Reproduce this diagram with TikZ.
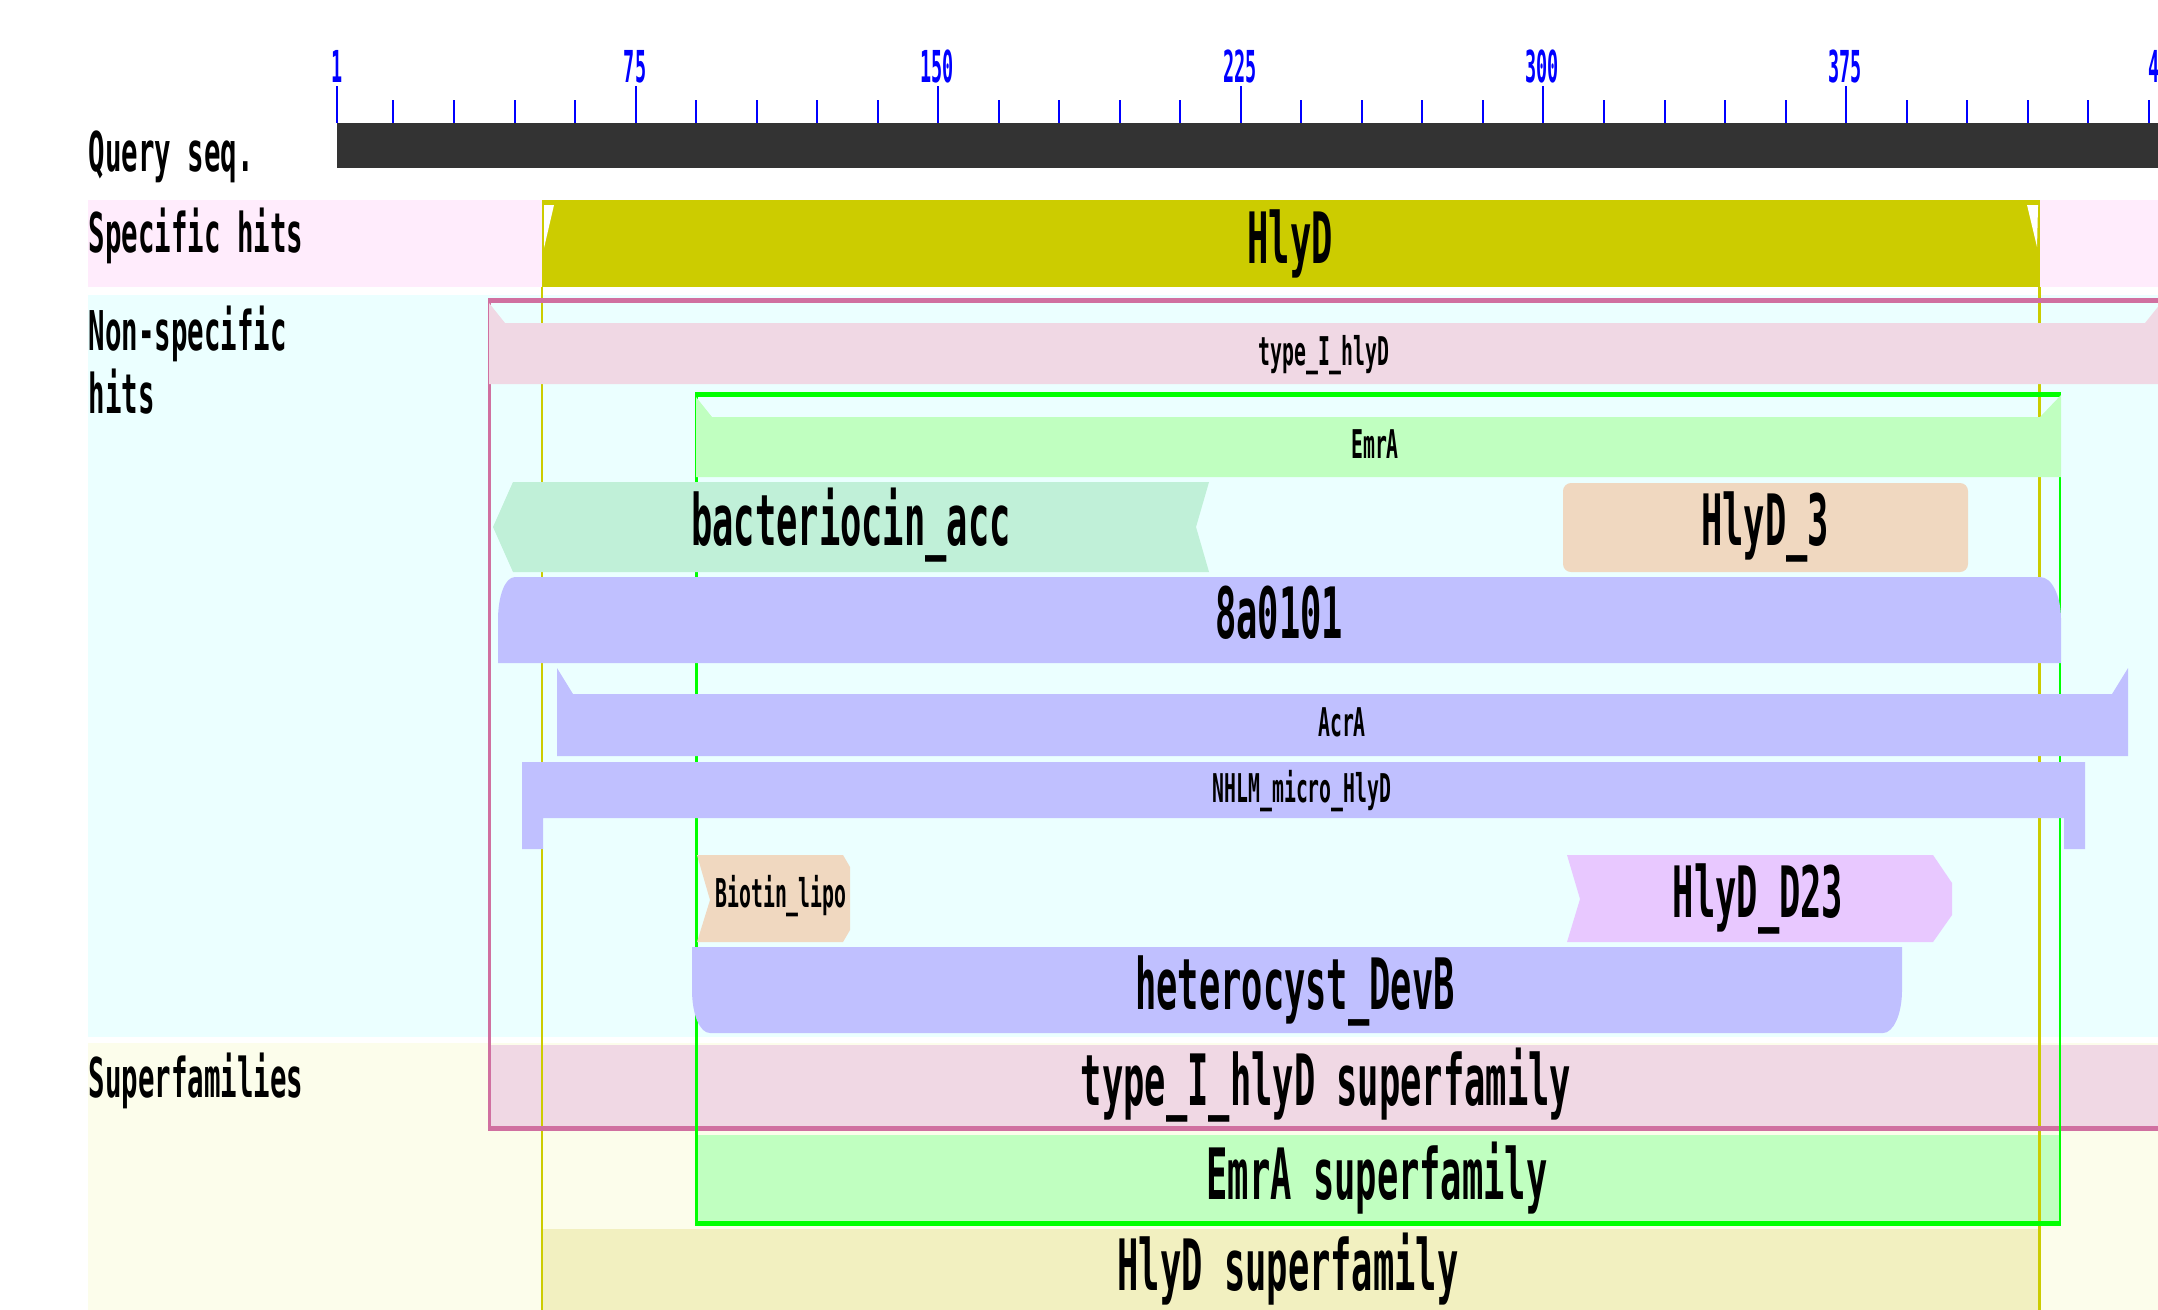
\documentclass[tikz,border=0pt]{standalone}
\usepackage{fontspec}
\newfontfamily\cdmono[FakeStretch=0.5]{DejaVu Sans Mono}
\newfontfamily\cdruler[FakeStretch=0.42]{DejaVu Sans Mono}
\newcommand\fbig{\cdmono\bfseries\fontsize{17.7pt}{20pt}\selectfont}
\newcommand\fmed{\cdmono\bfseries\fontsize{13.7pt}{16pt}\selectfont}
\newcommand\fsml{\cdmono\bfseries\fontsize{9.9pt}{12pt}\selectfont}
\newcommand\frul{\cdruler\bfseries\fontsize{11pt}{13pt}\selectfont}
\definecolor{bgSpec}{RGB}{255,236,252}
\definecolor{bgNon}{RGB}{235,255,255}
\definecolor{bgSup}{RGB}{252,253,235}
\definecolor{cdHlyD}{RGB}{204,204,0}
\definecolor{cdTypeI}{RGB}{240,216,228}
\definecolor{cdPinkLine}{RGB}{208,112,160}
\definecolor{cdEmrA}{RGB}{192,255,192}
\definecolor{cdGreenLine}{RGB}{0,255,0}
\definecolor{cdBact}{RGB}{192,240,216}
\definecolor{cdPeach}{RGB}{240,216,192}
\definecolor{cdLav}{RGB}{192,192,255}
\definecolor{cdViol}{RGB}{232,200,255}
\definecolor{cdHlyDsf}{RGB}{242,240,192}
\definecolor{cdYLine}{RGB}{204,204,0}
\definecolor{cdQuery}{RGB}{51,51,51}
\definecolor{cdBlue}{RGB}{0,0,255}
\begin{document}
\begin{tikzpicture}[x=0.25pt,y=-0.25pt,
  biglbl/.style={anchor=base, inner sep=0pt, font=\fbig},
  rowlbl/.style={anchor=base west, inner sep=0pt, font=\fmed},
  smllbl/.style={anchor=base, inner sep=0pt, font=\fsml},
  rullbl/.style={anchor=base, inner sep=0pt, font=\frul, text=cdBlue},
  tickline/.style={draw=cdBlue, line width=0.5pt}]
\useasboundingbox (0,0) rectangle (2158,1309);
\clip (0,0) rectangle (2158,1309);
\fill[white] (0,0) rectangle (2158,1309);
% background bands
\fill[bgSpec] (88,200) rectangle (2160,287);
\fill[bgNon] (88,295) rectangle (2160,1037);
\fill[bgSup] (88,1043) rectangle (2160,1320);
% ruler
\foreach \r in {1,75,150,225,300,375}
  \draw[tickline] ({337+(\r-1)*4.035},86) -- ({337+(\r-1)*4.035},123);
\foreach \r in {15,30,45,60,90,105,120,135,165,180,195,210,240,255,270,285,315,330,345,360,390,405,420,435,450}
  \draw[tickline] ({337+(\r-1)*4.035},100) -- ({337+(\r-1)*4.035},123);
\node[rullbl] (r1) at (337,82) {1};
\node[rullbl] (r75) at (635,82) {75};
\node[rullbl] (r150) at (937,82) {150};
\node[rullbl] (r225) at (1240,82) {225};
\node[rullbl] (r300) at (1542,82) {300};
\node[rullbl] (r375) at (1845,82) {375};
\node[rullbl, anchor=base west] (r450) at (2148,82) {4};
% query bar
\fill[cdQuery] (337,123) rectangle (2160,168);
% specific hit
\fill[cdHlyD] (542,200) rectangle (2040,287);
\fill[white] (544,205) -- (554,205) -- (544,248) -- cycle;
\fill[white] (2027,205) -- (2038,205) -- (2037,247) -- cycle;
% superfamily bars
\fill[cdTypeI] (489,1045) rectangle (2162,1126);
\fill[cdEmrA] (696,1135) rectangle (2061,1222);
\fill[cdHlyDsf] (542,1229) rectangle (2040,1320);
% cluster outlines
\fill[cdYLine] (540.5,287) rectangle (543,1320);
\fill[cdYLine] (2038,287) rectangle (2040.5,1320);
\fill[cdPinkLine] (488,298) rectangle (2162,303);
\fill[cdPinkLine] (488,298) rectangle (490.5,1131);
\fill[cdPinkLine] (488,1126) rectangle (2162,1131);
\fill[cdGreenLine] (695,392) rectangle (2061,397);
\fill[cdGreenLine] (695,392) rectangle (697.5,1226);
\fill[cdGreenLine] (2058.5,392) rectangle (2061,1226);
\fill[cdGreenLine] (695,1221) rectangle (2061,1226);
% non-specific hits
\fill[cdTypeI] (489,303) -- (505,323) -- (2145,323) -- (2161,303) -- (2162,384) -- (489,384) -- cycle;
\fill[cdEmrA] (696,397) -- (712,417) -- (2040,417) -- (2061,395) -- (2061,477) -- (696,477) -- cycle;
\fill[cdBact] (513,482) -- (1209,482) -- (1196,527) -- (1209,572) -- (513,572) -- (493,527) -- cycle;
\fill[cdPeach, rounded corners=2pt] (1563,483) rectangle (1968,572);
\fill[cdLav] (498,663) -- (498,620) .. controls (498,596) and (505,577) .. (515,577) -- (2040,577) .. controls (2052,577) and (2061,596) .. (2061,620) -- (2061,663) -- cycle;
\fill[cdLav] (557,668) -- (573,694) -- (2112,694) -- (2128,668) -- (2128,756) -- (557,756) -- cycle;
\fill[cdLav] (522,762) -- (2085,762) -- (2085,849) -- (2064,849) -- (2064,818) -- (543,818) -- (543,849) -- (522,849) -- cycle;
\fill[cdPeach] (697,855) -- (843,855) -- (850,867) -- (850,930) -- (843,942) -- (697,942) -- (710,900) -- cycle;
\fill[cdViol] (1567,855) -- (1933,855) -- (1952,883) -- (1952,915) -- (1933,942) -- (1567,942) -- (1580,899) -- cycle;
\fill[cdLav] (692,947) -- (1902,947) -- (1902,990) .. controls (1902,1015) and (1893,1033) .. (1883,1033) -- (710,1033) .. controls (700,1033) and (692,1015) .. (692,990) -- cycle;
% row labels
\node[rowlbl] (lQuery) at (88,171) {Query seq.};
\node[rowlbl] (lSpec) at (88,252) {Specific hits};
\node[rowlbl] (lNon) at (88,350) {Non-specific};
\node[rowlbl] (lHits) at (88,413) {hits};
\node[rowlbl] (lSuper) at (88,1097) {Superfamilies};
% bar labels
\node[biglbl] (tHlyD) at (1290,263) {HlyD};
\node[smllbl] (tTypeI) at (1324,365) {type\_I\_hlyD};
\node[smllbl] (tEmrA) at (1375,458) {EmrA};
\node[biglbl] (tBact) at (851,545) {bacteriocin\_acc};
\node[biglbl] (tHlyD3) at (1765,545) {HlyD\_3};
\node[biglbl] (t8a) at (1279,638) {8a0101};
\node[smllbl] (tAcrA) at (1342,736) {AcrA};
\node[smllbl] (tNHLM) at (1302,802) {NHLM\_micro\_HlyD};
\node[smllbl] (tBiotin) at (781,907) {Biotin\_lipo};
\node[biglbl] (tD23) at (1758,917) {HlyD\_D23};
\node[biglbl] (tDevB) at (1295,1009) {heterocyst\_DevB};
\node[biglbl] (tSfType) at (1326,1105) {type\_I\_hlyD superfamily};
\node[biglbl] (tSfEmrA) at (1377,1199) {EmrA superfamily};
\node[biglbl] (tSfHlyD) at (1288,1290) {HlyD superfamily};
\end{tikzpicture}
\end{document}
